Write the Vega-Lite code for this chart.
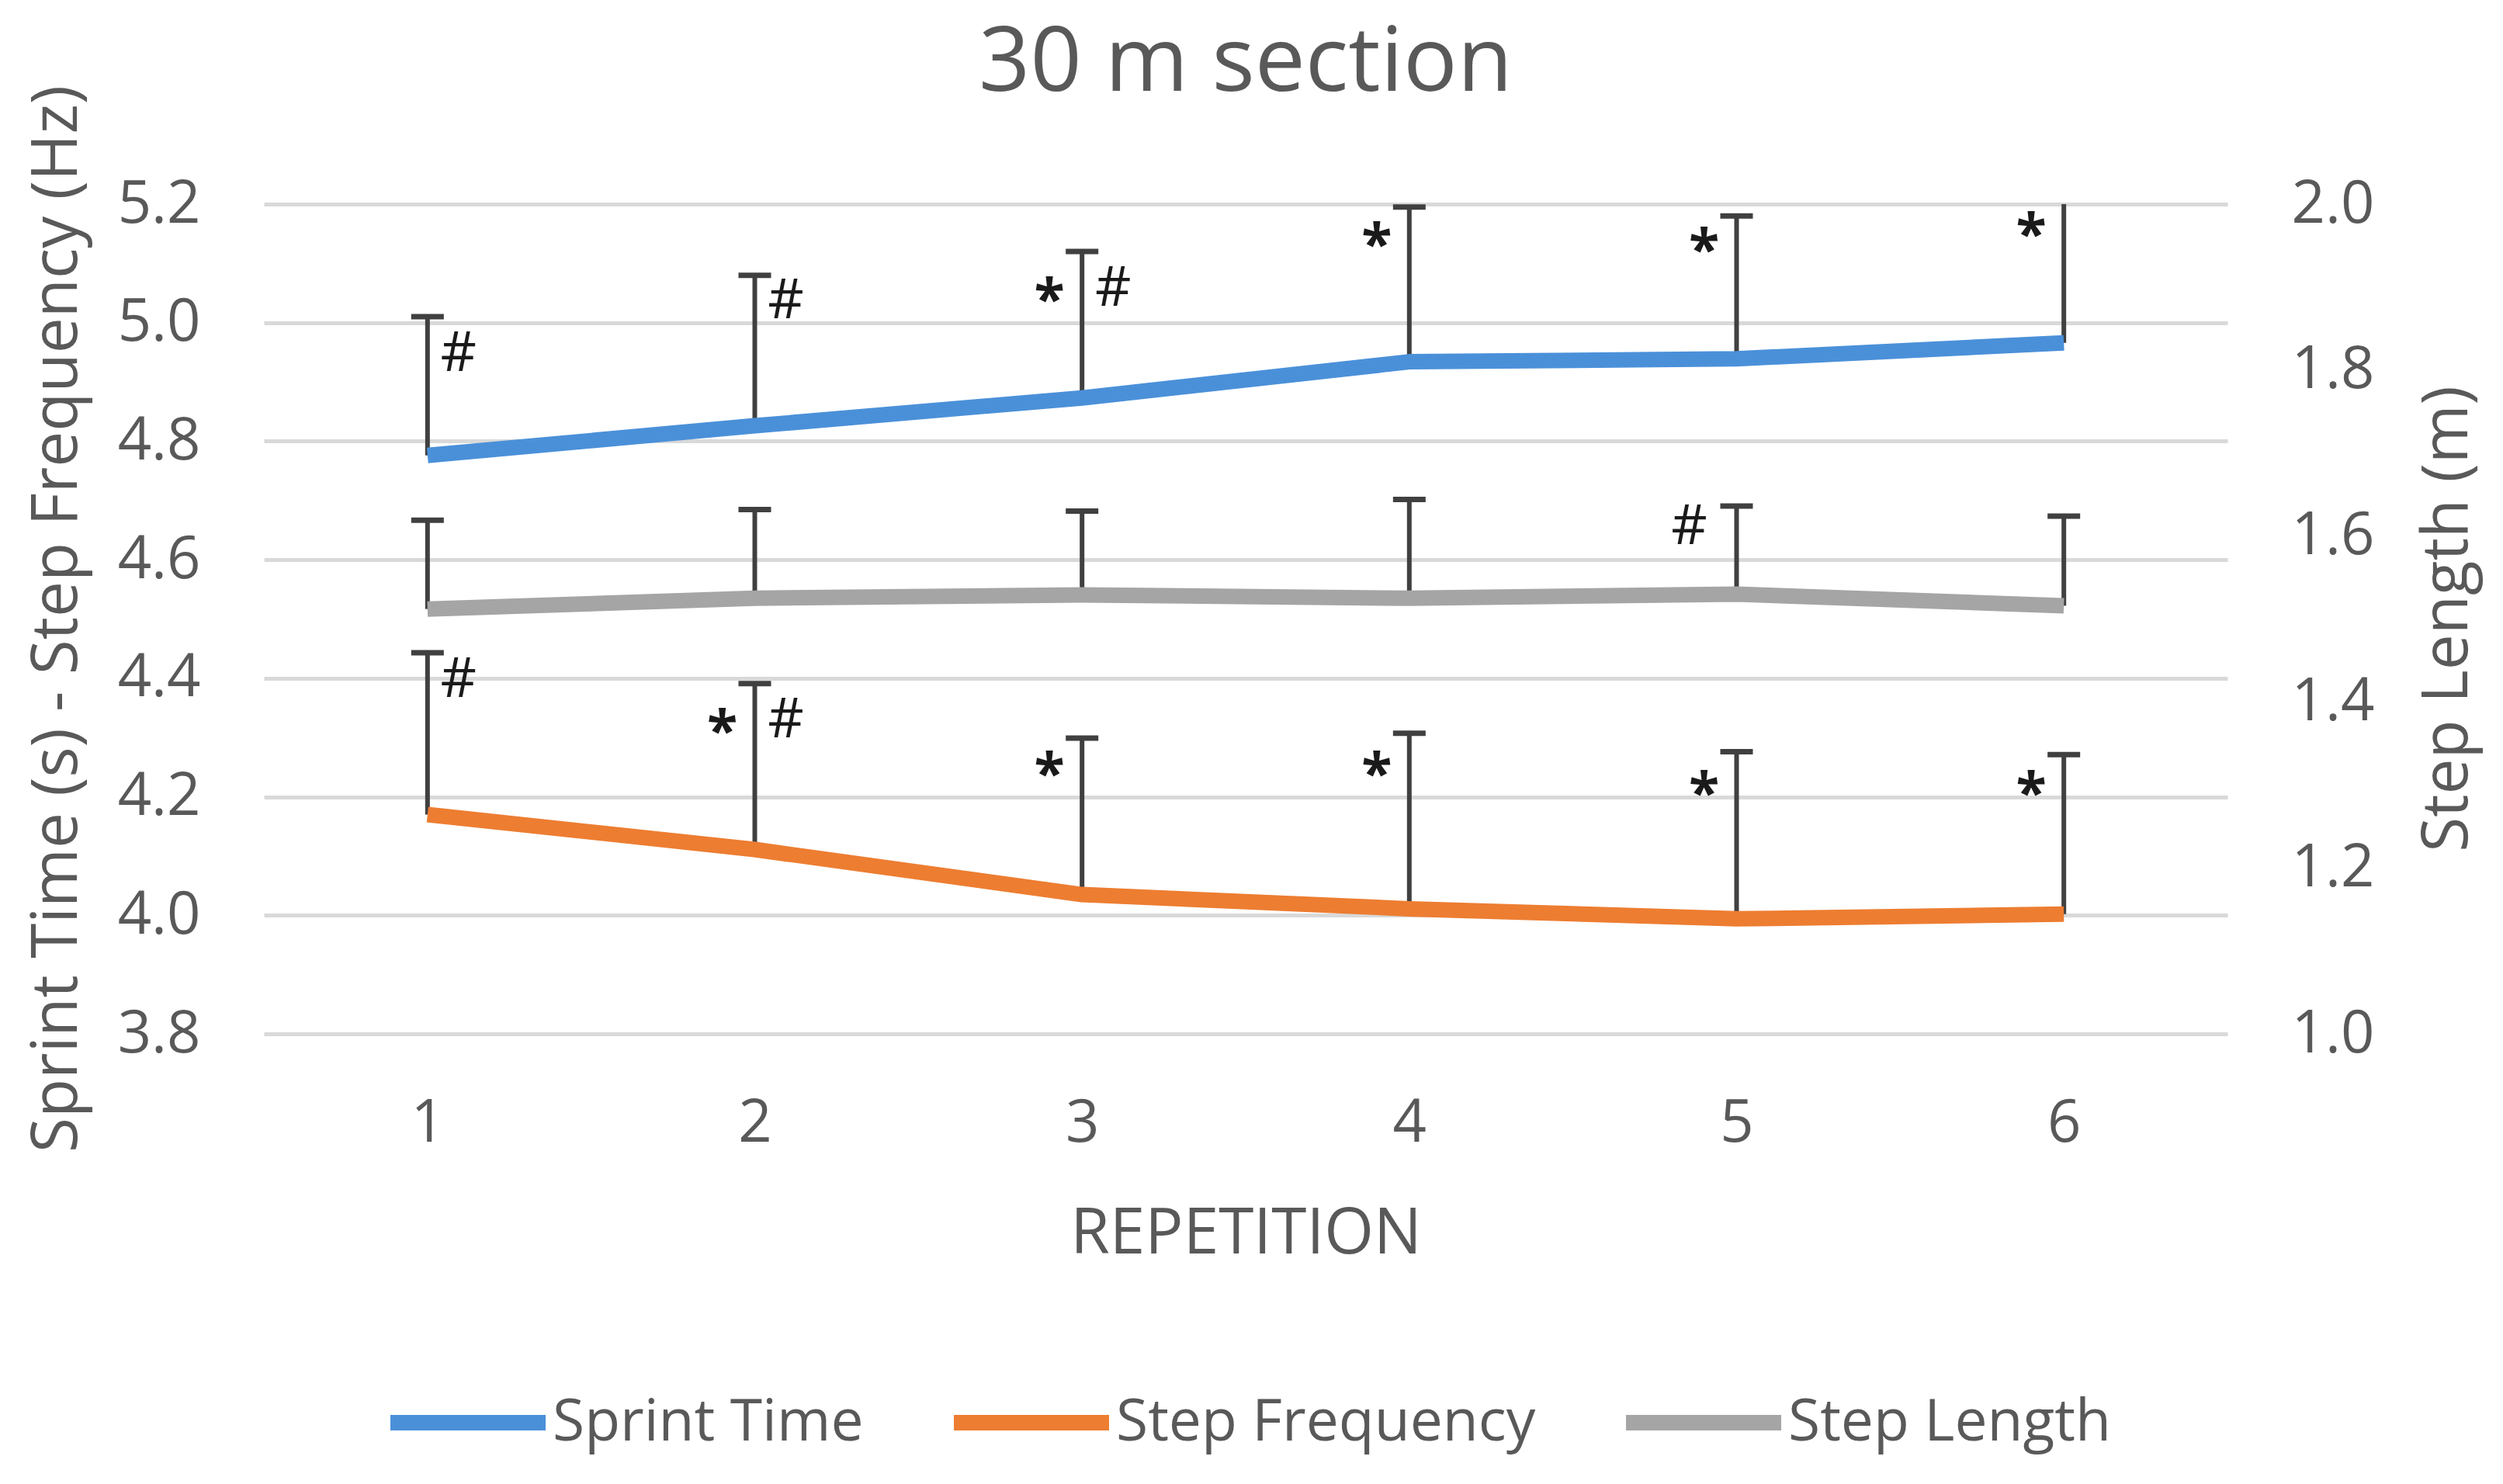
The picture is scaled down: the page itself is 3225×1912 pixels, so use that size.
{
  "$schema": "https://vega.github.io/schema/vega-lite/v6.json",
  "width": 2530,
  "height": 1069,
  "autosize": {"type": "none"},
  "padding": {"left": 340, "top": 263, "right": 355, "bottom": 580},
  "background": "white",
  "config": {
    "font": "Open Sans",
    "view": {"stroke": null},
    "axis": {
      "labelColor": "#595959",
      "titleColor": "#595959",
      "labelFontSize": 76,
      "titleFontSize": 82,
      "titleFontWeight": "normal",
      "domain": false,
      "ticks": false,
      "tickSize": 0
    }
  },
  "title": {
    "text": "30 m section",
    "fontSize": 116,
    "fontWeight": "normal",
    "color": "#595959",
    "frame": "group",
    "anchor": "middle",
    "offset": -124,
    "baseline": "alphabetic"
  },
  "datasets": {
    "series": [
      {"rep": 1, "series": "Sprint Time", "value": 4.776, "upper": 5.01},
      {"rep": 2, "series": "Sprint Time", "value": 4.826, "upper": 5.08},
      {"rep": 3, "series": "Sprint Time", "value": 4.873, "upper": 5.12},
      {"rep": 4, "series": "Sprint Time", "value": 4.934, "upper": 5.195},
      {"rep": 5, "series": "Sprint Time", "value": 4.939, "upper": 5.18},
      {"rep": 6, "series": "Sprint Time", "value": 4.966, "upper": 5.23},
      {"rep": 1, "series": "Step Frequency", "value": 4.17, "upper": 4.443},
      {"rep": 2, "series": "Step Frequency", "value": 4.111, "upper": 4.391},
      {"rep": 3, "series": "Step Frequency", "value": 4.035, "upper": 4.299},
      {"rep": 4, "series": "Step Frequency", "value": 4.011, "upper": 4.307},
      {"rep": 5, "series": "Step Frequency", "value": 3.994, "upper": 4.276},
      {"rep": 6, "series": "Step Frequency", "value": 4.002, "upper": 4.271},
      {"rep": 1, "series": "Step Length", "value": 1.512, "upper": 1.619},
      {"rep": 2, "series": "Step Length", "value": 1.525, "upper": 1.632},
      {"rep": 3, "series": "Step Length", "value": 1.529, "upper": 1.63},
      {"rep": 4, "series": "Step Length", "value": 1.525, "upper": 1.644},
      {"rep": 5, "series": "Step Length", "value": 1.53, "upper": 1.636},
      {"rep": 6, "series": "Step Length", "value": 1.516, "upper": 1.624}
    ],
    "marks": [
      {"rep": 1, "series": "Sprint Time", "symbol": "#", "pos": 4.947},
      {"rep": 2, "series": "Sprint Time", "symbol": "#", "pos": 5.036},
      {"rep": 3, "series": "Sprint Time", "symbol": "*", "pos": 5.057},
      {"rep": 3, "series": "Sprint Time", "symbol": "#", "pos": 5.057},
      {"rep": 4, "series": "Sprint Time", "symbol": "*", "pos": 5.15},
      {"rep": 5, "series": "Sprint Time", "symbol": "*", "pos": 5.141},
      {"rep": 6, "series": "Sprint Time", "symbol": "*", "pos": 5.167},
      {"rep": 1, "series": "Step Frequency", "symbol": "#", "pos": 4.397},
      {"rep": 2, "series": "Step Frequency", "symbol": "*", "pos": 4.329},
      {"rep": 2, "series": "Step Frequency", "symbol": "#", "pos": 4.329},
      {"rep": 3, "series": "Step Frequency", "symbol": "*", "pos": 4.257},
      {"rep": 4, "series": "Step Frequency", "symbol": "*", "pos": 4.257},
      {"rep": 5, "series": "Step Frequency", "symbol": "*", "pos": 4.224},
      {"rep": 6, "series": "Step Frequency", "symbol": "*", "pos": 4.224},
      {"rep": 5, "series": "Step Length", "symbol": "#", "pos": 1.611}
    ]
  },
  "layer": [
    {
      "layer": [
        {
          "data": {"name": "series"},
          "transform": [{"filter": "datum.series != 'Step Length'"}],
          "layer": [
            {
              "mark": {"type": "rule", "color": "#404040", "strokeWidth": 6, "clip": true},
              "encoding": {
                "x": {"field": "rep", "type": "quantitative", "scale": {"domain": [0.5, 6.5], "nice": false, "zero": false}},
                "y": {"field": "value", "type": "quantitative", "scale": {"domain": [3.8, 5.2], "nice": false, "zero": false}},
                "y2": {"field": "upper"}
              }
            },
            {
              "mark": {"type": "tick", "orient": "horizontal", "color": "#404040", "size": 42, "thickness": 7, "opacity": 1, "clip": true},
              "encoding": {
                "x": {"field": "rep", "type": "quantitative", "scale": {"domain": [0.5, 6.5], "nice": false, "zero": false}},
                "y": {"field": "upper", "type": "quantitative", "scale": {"domain": [3.8, 5.2], "nice": false, "zero": false}}
              }
            },
            {
              "mark": {"type": "line", "strokeWidth": 20, "strokeJoin": "round"},
              "encoding": {
                "x": {
                  "field": "rep", "type": "quantitative",
                  "scale": {"domain": [0.5, 6.5], "nice": false, "zero": false},
                  "axis": {"values": [1, 2, 3, 4, 5, 6], "format": "d", "grid": false, "labelPadding": 78, "title": "REPETITION", "titleY": 282, "titleBaseline": "alphabetic"}
                },
                "y": {
                  "field": "value", "type": "quantitative",
                  "scale": {"domain": [3.8, 5.2], "nice": false, "zero": false},
                  "axis": {"orient": "left", "values": [3.8, 4.0, 4.2, 4.4, 4.6, 4.8, 5.0, 5.2], "format": ".1f", "grid": true, "gridColor": "#D9D9D9", "gridWidth": 5, "labelPadding": 82, "title": "Sprint Time (s) - Step Frequency (Hz)", "titleX": -242, "titleY": 534, "titleAngle": -90, "titleBaseline": "alphabetic", "titleAlign": "center"}
                },
                "color": {
                  "field": "series", "type": "nominal",
                  "scale": {"domain": ["Sprint Time", "Step Frequency", "Step Length"], "range": ["#4A90D9", "#ED7D31", "#A5A5A5"]},
                  "legend": {"orient": "none", "legendX": 153, "legendY": 1460, "direction": "horizontal", "title": null, "symbolType": "stroke", "symbolSize": 40000, "symbolStrokeWidth": 20, "labelFontSize": 75, "labelColor": "#595959", "labelOffset": -1, "labelLimit": 0, "columnPadding": 76, "padding": 0}
                }
              }
            }
          ]
        },
        {
          "data": {"name": "marks"},
          "transform": [{"filter": "datum.series != 'Step Length'"}],
          "layer": [
            {
              "transform": [{"filter": "datum.symbol == '*'"}],
              "mark": {"type": "text", "dx": -42, "dy": 17, "fontSize": 72, "fontWeight": "bold", "color": "#1a1a1a", "align": "center", "baseline": "middle"},
              "encoding": {
                "x": {"field": "rep", "type": "quantitative", "scale": {"domain": [0.5, 6.5], "nice": false, "zero": false}},
                "y": {"field": "pos", "type": "quantitative", "scale": {"domain": [3.8, 5.2], "nice": false, "zero": false}},
                "text": {"field": "symbol"}
              }
            },
            {
              "transform": [{"filter": "datum.symbol == '#'"}],
              "mark": {"type": "text", "dx": 40, "fontSize": 72, "color": "#1a1a1a", "align": "center", "baseline": "middle"},
              "encoding": {
                "x": {"field": "rep", "type": "quantitative", "scale": {"domain": [0.5, 6.5], "nice": false, "zero": false}},
                "y": {"field": "pos", "type": "quantitative", "scale": {"domain": [3.8, 5.2], "nice": false, "zero": false}},
                "text": {"field": "symbol"}
              }
            }
          ]
        }
      ]
    },
    {
      "layer": [
        {
          "data": {"name": "series"},
          "transform": [{"filter": "datum.series == 'Step Length'"}],
          "layer": [
            {
              "mark": {"type": "rule", "color": "#404040", "strokeWidth": 6, "clip": true},
              "encoding": {
                "x": {"field": "rep", "type": "quantitative", "scale": {"domain": [0.5, 6.5], "nice": false, "zero": false}},
                "y": {"field": "value", "type": "quantitative", "scale": {"domain": [1.0, 2.0], "nice": false, "zero": false}},
                "y2": {"field": "upper"}
              }
            },
            {
              "mark": {"type": "tick", "orient": "horizontal", "color": "#404040", "size": 42, "thickness": 7, "opacity": 1, "clip": true},
              "encoding": {
                "x": {"field": "rep", "type": "quantitative", "scale": {"domain": [0.5, 6.5], "nice": false, "zero": false}},
                "y": {"field": "upper", "type": "quantitative", "scale": {"domain": [1.0, 2.0], "nice": false, "zero": false}}
              }
            },
            {
              "mark": {"type": "line", "strokeWidth": 20, "strokeJoin": "round"},
              "encoding": {
                "x": {"field": "rep", "type": "quantitative", "scale": {"domain": [0.5, 6.5], "nice": false, "zero": false}},
                "y": {
                  "field": "value", "type": "quantitative",
                  "scale": {"domain": [1.0, 2.0], "nice": false, "zero": false},
                  "axis": {"orient": "right", "values": [1.0, 1.2, 1.4, 1.6, 1.8, 2.0], "format": ".1f", "grid": false, "labelPadding": 82, "title": "Step Length (m)", "titleX": 308, "titleY": 534, "titleAngle": -90, "titleBaseline": "alphabetic", "titleAlign": "center"}
                },
                "color": {"field": "series", "type": "nominal"}
              }
            }
          ]
        },
        {
          "data": {"name": "marks"},
          "transform": [{"filter": "datum.series == 'Step Length'"}],
          "mark": {"type": "text", "dx": -61, "fontSize": 72, "color": "#1a1a1a", "align": "center", "baseline": "middle"},
          "encoding": {
            "x": {"field": "rep", "type": "quantitative", "scale": {"domain": [0.5, 6.5], "nice": false, "zero": false}},
            "y": {"field": "pos", "type": "quantitative", "scale": {"domain": [1.0, 2.0], "nice": false, "zero": false}},
            "text": {"field": "symbol"}
          }
        }
      ]
    }
  ],
  "resolve": {"scale": {"y": "independent"}}
}
